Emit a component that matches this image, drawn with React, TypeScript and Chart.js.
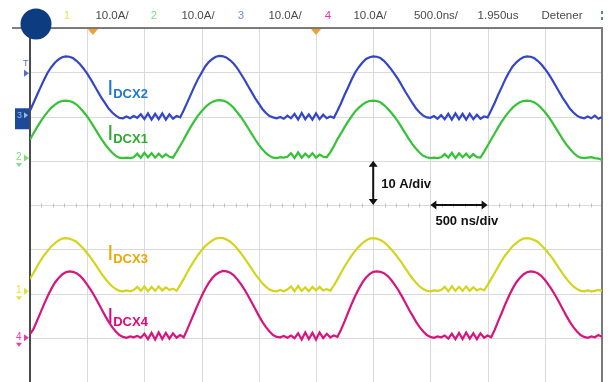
import { useEffect, useRef } from "react";
import { Chart, registerables } from "chart.js";

Chart.register(...registerables);

// ---- scope settings ----
const SAMPLE_NS = 31.25;
const NS_PER_DIV = 500;
const A_PER_DIV = 10;
const TIME_DIVS = 10;
const V_DIVS = 8;

// ---- header texts ----
const headerTexts = ["1", "10.0A/", "2", "10.0A/", "3", "10.0A/", "4", "10.0A/", "500.0ns/", "1.950us", "Detener"];

// ---- waveform samples (A, relative to channel ground), one sample every 31.25 ns ----
// Channel 3 : I_DCX2 (blue)
const idcx2 = [
  1.7, 3.5, 5.3, 7.1, 8.8, 10.4, 11.6, 12.6, 13.3, 13.8, 14.0,
  13.9, 13.6, 13.0, 12.2, 11.2, 10.1, 8.8, 7.4, 6.0, 4.6, 3.4, 2.2, 1.3, 0.6, 0.1, 0.0,
  0.4, 0.0, 0.5, 0.1, 0.9, -0.2, 1.1, -0.3, 1.0, -0.2, 1.1, -0.3, 0.9, -0.1, 0.5,
  0.2, 1.8, 3.6, 5.4, 7.2, 8.9, 10.3, 11.7, 12.7, 13.4, 13.9, 14.1,
  14.0, 13.7, 13.1, 12.3, 11.3, 10.0, 8.7, 7.3, 5.9, 4.5, 3.3, 2.1, 1.2, 0.5, 0.2, 0.0,
  0.3, -0.1, 0.6, 0.0, 1.0, -0.3, 1.2, -0.2, 0.9, -0.3, 1.1, -0.2, 0.8, 0.0, 0.4,
  0.1, 1.7, 3.4, 5.3, 7.0, 8.8, 10.4, 11.6, 12.6, 13.4, 13.8, 14.0,
  13.9, 13.6, 13.0, 12.1, 11.1, 10.0, 8.8, 7.4, 6.0, 4.7, 3.4, 2.2, 1.3, 0.6, 0.2, 0.1,
  0.5, -0.1, 0.7, -0.2, 1.0, -0.3, 1.1, -0.2, 1.0, -0.3, 1.0, -0.2, 0.8, -0.1, 0.4,
  0.2, 1.8, 3.5, 5.4, 7.1, 8.9, 10.4, 11.7, 12.6, 13.3, 13.8, 14.0,
  13.9, 13.6, 13.0, 12.2, 11.2, 10.1, 8.8, 7.4, 6.0, 4.6, 3.4, 2.2, 1.3, 0.6, 0.2, 0.0,
  0.4, 0.0, 0.6, -0.1, 0.3,
];

// Channel 2 : I_DCX1 (green)
const idcx1 = [
  4.2, 5.6, 7.0, 8.3, 9.5, 10.5, 11.4, 12.1, 12.6, 12.9, 13.0,
  12.9, 12.6, 12.1, 11.3, 10.4, 9.4, 8.2, 6.9, 5.6, 4.3, 3.1, 2.1, 1.2, 0.5, 0.1, 0.0,
  0.1, 0.0, 0.2, 1.0, 0.1, 1.2, 0.2, 1.1, 0.1, 1.0, 0.2, 0.9, 0.3,
  0.1, 1.4, 2.8, 4.2, 5.7, 7.1, 8.4, 9.6, 10.6, 11.5, 12.2, 12.7, 13.0, 13.1,
  13.0, 12.7, 12.1, 11.3, 10.3, 9.3, 8.1, 6.8, 5.5, 4.2, 3.0, 2.0, 1.1, 0.5, 0.1, 0.0,
  0.2, 0.1, 0.3, 1.1, 0.0, 1.3, 0.1, 1.0, 0.2, 1.1, 0.1, 0.8, 0.3,
  0.2, 1.3, 2.7, 4.3, 5.6, 7.0, 8.3, 9.5, 10.6, 11.4, 12.1, 12.6, 12.9, 13.0,
  12.9, 12.6, 12.0, 11.2, 10.3, 9.3, 8.2, 6.9, 5.6, 4.3, 3.1, 2.1, 1.2, 0.5, 0.2, 0.0,
  0.1, 0.0, 0.2, 0.9, 0.1, 1.2, 0.0, 1.1, 0.2, 1.0, 0.1, 0.9, 0.2,
  0.1, 1.4, 2.8, 4.2, 5.6, 7.0, 8.3, 9.5, 10.5, 11.4, 12.1, 12.6, 12.9, 13.0,
  12.9, 12.6, 12.1, 11.3, 10.4, 9.4, 8.2, 6.9, 5.6, 4.3, 3.1, 2.1, 1.2, 0.5, 0.1, 0.0,
  0.1, 0.2, 0.0, -0.1, -0.4,
];

// Channel 1 : I_DCX3 (yellow)
const idcx3 = [
  2.8, 4.2, 5.6, 7.0, 8.2, 9.2, 10.2, 10.9, 11.5, 11.9, 12.0,
  11.9, 11.6, 11.2, 10.4, 9.6, 8.6, 7.6, 6.4, 5.2, 4.0, 2.9, 1.9, 1.1, 0.5, 0.1, 0.0,
  0.2, 0.0, 0.3, 1.0, 0.1, 1.1, 0.0, 1.0, 0.1, 1.1, 0.2, 0.9, 0.3, 0.6,
  0.1, 1.4, 2.8, 4.3, 5.7, 7.0, 8.2, 9.3, 10.2, 10.9, 11.5, 11.9, 12.1,
  12.0, 11.7, 11.2, 10.5, 9.6, 8.6, 7.5, 6.3, 5.1, 3.9, 2.8, 1.8, 1.0, 0.4, 0.1, 0.0,
  0.3, 0.0, 0.4, 1.1, 0.0, 1.2, 0.1, 0.9, 0.0, 1.0, 0.2, 1.0, 0.2, 0.5,
  0.1, 1.3, 2.7, 4.2, 5.6, 6.9, 8.1, 9.2, 10.1, 10.9, 11.5, 11.9, 12.0,
  11.9, 11.6, 11.1, 10.4, 9.5, 8.6, 7.5, 6.4, 5.2, 4.0, 2.9, 1.9, 1.1, 0.5, 0.1, 0.0,
  0.2, 0.1, 0.3, 1.0, 0.0, 1.1, 0.1, 1.0, 0.1, 1.1, 0.1, 0.9, 0.2, 0.6,
  0.2, 1.4, 2.8, 4.2, 5.6, 7.0, 8.2, 9.2, 10.2, 10.9, 11.5, 11.9, 12.0,
  11.9, 11.6, 11.2, 10.4, 9.6, 8.6, 7.6, 6.4, 5.2, 4.0, 2.9, 1.9, 1.1, 0.5, 0.1, 0.0,
  0.2, 0.0, 0.1, 0.3, 0.1,
];

// Channel 4 : I_DCX4 (magenta)
const idcx4 = [
  0.8, 2.0, 3.9, 5.8, 7.7, 9.5, 11.1, 12.5, 13.5, 14.3, 14.8, 15.0,
  14.9, 14.6, 14.0, 13.1, 12.0, 10.8, 9.5, 8.0, 6.5, 5.0, 3.6, 2.4, 1.4, 0.6, 0.2, 0.0,
  0.3, 0.1, 0.4, 0.0, 0.9, -0.3, 1.1, -0.4, 1.2, -0.3, 1.1, -0.2, 1.0, 0.0, 0.6,
  0.1, 1.9, 3.8, 5.7, 7.6, 9.4, 11.0, 12.4, 13.5, 14.3, 14.8, 15.1,
  15.0, 14.7, 14.1, 13.2, 12.1, 10.9, 9.5, 8.0, 6.5, 5.0, 3.6, 2.4, 1.4, 0.6, 0.2, 0.1,
  0.4, 0.0, 0.5, -0.1, 1.0, -0.4, 1.2, -0.3, 1.1, -0.4, 1.2, -0.1, 0.9, 0.1, 0.5,
  0.2, 1.8, 3.7, 5.7, 7.7, 9.5, 11.1, 12.5, 13.6, 14.4, 14.9, 15.0,
  14.9, 14.6, 14.0, 13.1, 12.0, 10.8, 9.4, 7.9, 6.4, 5.0, 3.6, 2.4, 1.4, 0.6, 0.2, 0.0,
  0.3, 0.1, 0.5, -0.2, 0.9, -0.3, 1.1, -0.3, 1.2, -0.2, 1.0, -0.3, 1.0, 0.0, 0.5,
  0.1, 1.8, 3.8, 5.7, 7.7, 9.5, 11.1, 12.5, 13.5, 14.3, 14.8, 15.0,
  14.9, 14.6, 14.0, 13.1, 12.0, 10.8, 9.5, 8.0, 6.5, 5.0, 3.6, 2.4, 1.4, 0.6, 0.2, 0.0,
  0.3, 0.1, 0.6, 0.2,
];

// channel ground positions (A on screen, 10 A/div)
const channelOffsets = { ch1: -19.5, ch2: 10.6, ch3: 19.6, ch4: -30 };

const channelColors = {
  ch1: "#d4d41c",
  ch2: "#36c236",
  ch3: "#3446c8",
  ch4: "#d4167e",
};
const headerColors = {
  ch1: "#e6e65a",
  ch2: "#7fdc7f",
  ch3: "#6f8fd0",
  ch4: "#ee2fae",
};
const labelColors = {
  ch1: "#eaa800",
  ch2: "#2daa2d",
  ch3: "#1f78c8",
  ch4: "#e0087c",
};

const FONT = '"Liberation Sans", Arial, sans-serif';

function toPoints(values: number[], offset: number) {
  return values.map((v, i) => ({ x: i * SAMPLE_NS, y: v + offset }));
}

function line(ctx: CanvasRenderingContext2D, x1: number, y1: number, x2: number, y2: number) {
  ctx.beginPath();
  ctx.moveTo(x1, y1);
  ctx.lineTo(x2, y2);
  ctx.stroke();
}

function arrowHead(ctx: CanvasRenderingContext2D, x: number, y: number, dx: number, dy: number) {
  const s = 6;
  ctx.beginPath();
  ctx.moveTo(x, y);
  ctx.lineTo(x - dx * s - dy * s * 0.75, y - dy * s - dx * s * 0.75);
  ctx.lineTo(x - dx * s + dy * s * 0.75, y - dy * s + dx * s * 0.75);
  ctx.closePath();
  ctx.fill();
}

function channelMarker(ctx: CanvasRenderingContext2D, label: string, py: number, color: string) {
  ctx.fillStyle = color;
  ctx.font = `10px ${FONT}`;
  ctx.textAlign = "left";
  ctx.textBaseline = "middle";
  ctx.fillText(label, 16, py - 1);
  ctx.beginPath();
  ctx.moveTo(29, py);
  ctx.lineTo(24, py - 3.5);
  ctx.lineTo(24, py + 3.5);
  ctx.closePath();
  ctx.fill();
  ctx.beginPath();
  ctx.moveTo(19, py + 9);
  ctx.lineTo(16, py + 5);
  ctx.lineTo(22, py + 5);
  ctx.closePath();
  ctx.fill();
}

const scopePlugin = {
  id: "scope",
  beforeDraw(chart: any) {
    const { ctx, chartArea: a, scales } = chart;
    const xs = scales.x;
    const ys = scales.y;
    ctx.save();
    ctx.fillStyle = "#ffffff";
    ctx.fillRect(0, 0, chart.width, chart.height);
    ctx.strokeStyle = "#d9d9d9";
    ctx.lineWidth = 1;
    for (let d = 0; d <= TIME_DIVS; d++) {
      const px = Math.round(xs.getPixelForValue(d * NS_PER_DIV)) + 0.5;
      line(ctx, px, a.top, px, a.bottom);
    }
    for (let d = -V_DIVS / 2; d <= V_DIVS / 2; d++) {
      const py = Math.round(ys.getPixelForValue(d * A_PER_DIV)) + 0.5;
      line(ctx, a.left, py, a.right, py);
    }
    // centre-line minor ticks
    ctx.strokeStyle = "#c4c4c4";
    const cy = Math.round(ys.getPixelForValue(0)) + 0.5;
    for (let m = 0; m <= TIME_DIVS * 5; m++) {
      const px = Math.round(xs.getPixelForValue((m * NS_PER_DIV) / 5)) + 0.5;
      line(ctx, px, cy - 2, px, cy + 2);
    }
    // frame
    ctx.strokeStyle = "#555555";
    ctx.lineWidth = 1.5;
    line(ctx, 12, a.top, a.right + 1, a.top);
    ctx.strokeStyle = "#7a7a7a";
    ctx.lineWidth = 2;
    line(ctx, a.right, a.top, a.right, a.bottom);
    ctx.strokeStyle = "#4a4a4a";
    line(ctx, a.left, a.top, a.left, a.bottom);
    ctx.restore();
  },
  afterDraw(chart: any) {
    const { ctx, chartArea: a, scales } = chart;
    const xs = scales.x;
    const ys = scales.y;
    ctx.save();

    // header
    const headerX = [67, 112, 154, 198, 241, 285, 328, 370, 436, 498, 562];
    const headerCol = [
      headerColors.ch1, "#4a4a4a", headerColors.ch2, "#4a4a4a", headerColors.ch3, "#4a4a4a",
      headerColors.ch4, "#4a4a4a", "#4a4a4a", "#4a4a4a", "#4a4a4a",
    ];
    ctx.font = `11.5px ${FONT}`;
    ctx.textAlign = "center";
    ctx.textBaseline = "middle";
    headerTexts.forEach((t, i) => {
      ctx.fillStyle = headerCol[i];
      ctx.fillText(t, headerX[i], 16);
    });
    // small blue scroll symbol
    ctx.fillStyle = "#4a7fd0";
    ctx.fillRect(601, 11, 2, 3);
    ctx.fillRect(601, 17, 2, 3);

    // trigger-position markers (orange)
    ctx.fillStyle = "#f0a030";
    [550, 2500].forEach((t) => {
      const px = xs.getPixelForValue(t);
      ctx.beginPath();
      ctx.moveTo(px - 5, a.top + 1);
      ctx.lineTo(px + 5, a.top + 1);
      ctx.lineTo(px, a.top + 7);
      ctx.closePath();
      ctx.fill();
    });

    // trigger level marker
    const tl = ys.getPixelForValue(29.8);
    ctx.fillStyle = "#4a6fd0";
    ctx.font = `9px ${FONT}`;
    ctx.textAlign = "left";
    ctx.textBaseline = "middle";
    ctx.fillText("T", 23, tl - 10);
    ctx.beginPath();
    ctx.moveTo(29, tl);
    ctx.lineTo(24, tl - 3.5);
    ctx.lineTo(24, tl + 3.5);
    ctx.closePath();
    ctx.fill();

    // channel ground markers
    const g3 = ys.getPixelForValue(channelOffsets.ch3);
    ctx.fillStyle = "#1c4a98";
    ctx.fillRect(15, g3 - 10, 14, 21);
    ctx.fillStyle = "#9fb8ea";
    ctx.font = `9px ${FONT}`;
    ctx.fillText("3", 17, g3 - 3);
    ctx.beginPath();
    ctx.moveTo(28, g3 - 3);
    ctx.lineTo(24, g3 - 6);
    ctx.lineTo(24, g3);
    ctx.closePath();
    ctx.fill();
    channelMarker(ctx, "2", ys.getPixelForValue(channelOffsets.ch2), headerColors.ch2);
    channelMarker(ctx, "1", ys.getPixelForValue(channelOffsets.ch1), "#e2e23a");
    channelMarker(ctx, "4", ys.getPixelForValue(channelOffsets.ch4), "#ec3aa8");

    // logo circle
    ctx.fillStyle = "#0e3c80";
    ctx.beginPath();
    ctx.arc(36, 24, 15.5, 0, Math.PI * 2);
    ctx.fill();

    // trace labels
    const labels = [
      { sub: "DCX2", t: 675, a: 24.9, c: labelColors.ch3 },
      { sub: "DCX1", t: 675, a: 14.8, c: labelColors.ch2 },
      { sub: "DCX3", t: 675, a: -12.4, c: labelColors.ch1 },
      { sub: "DCX4", t: 675, a: -26.7, c: labelColors.ch4 },
    ];
    ctx.textAlign = "left";
    ctx.textBaseline = "alphabetic";
    labels.forEach((l) => {
      const px = xs.getPixelForValue(l.t);
      const py = ys.getPixelForValue(l.a);
      ctx.fillStyle = l.c;
      ctx.font = `22px ${FONT}`;
      ctx.fillText("I", px, py);
      ctx.font = `bold 13px ${FONT}`;
      ctx.fillText(l.sub, px + 6, py + 3);
    });

    // scale annotations
    ctx.strokeStyle = "#111111";
    ctx.fillStyle = "#111111";
    ctx.lineWidth = 2;
    const vx = xs.getPixelForValue(3000);
    const vy1 = ys.getPixelForValue(A_PER_DIV);
    const vy2 = ys.getPixelForValue(0);
    line(ctx, vx, vy1 + 3, vx, vy2 - 3);
    arrowHead(ctx, vx, vy1, 0, -1);
    arrowHead(ctx, vx, vy2, 0, 1);
    ctx.font = `bold 13px ${FONT}`;
    ctx.fillText("10 A/div", vx + 8, (vy1 + vy2) / 2 + 5);

    const hx1 = xs.getPixelForValue(3500);
    const hx2 = xs.getPixelForValue(4000);
    const hy = ys.getPixelForValue(0);
    line(ctx, hx1 + 3, hy, hx2 - 3, hy);
    arrowHead(ctx, hx1, hy, -1, 0);
    arrowHead(ctx, hx2, hy, 1, 0);
    ctx.fillText("500 ns/div", hx1 + 5, hy + 20);

    ctx.restore();
  },
};

export default function App() {
  const ref = useRef<HTMLCanvasElement>(null);
  useEffect(() => {
    document.body.style.margin = "0";
    const canvas = ref.current;
    if (!canvas) return;
    const ds = (values: number[], off: number, color: string) => ({
      data: toPoints(values, off),
      borderColor: color,
      borderWidth: 2.2,
      pointRadius: 0,
      tension: 0,
      fill: false,
    });
    const chart = new Chart(canvas, {
      type: "line",
      data: {
        datasets: [
          ds(idcx2, channelOffsets.ch3, channelColors.ch3),
          ds(idcx1, channelOffsets.ch2, channelColors.ch2),
          ds(idcx3, channelOffsets.ch1, channelColors.ch1),
          ds(idcx4, channelOffsets.ch4, channelColors.ch4),
        ],
      },
      options: {
        responsive: false,
        animation: false,
        events: [],
        layout: { padding: { left: 30, right: 11, top: 28, bottom: 0 } },
        plugins: { legend: { display: false }, tooltip: { enabled: false } },
        scales: {
          x: { type: "linear", min: 0, max: TIME_DIVS * NS_PER_DIV, display: false },
          y: { type: "linear", min: (-V_DIVS / 2) * A_PER_DIV, max: (V_DIVS / 2) * A_PER_DIV, display: false },
        },
      },
      plugins: [scopePlugin],
    });
    return () => chart.destroy();
  }, []);
  return <canvas ref={ref} width={613} height={382} style={{ display: "block" }} />;
}
